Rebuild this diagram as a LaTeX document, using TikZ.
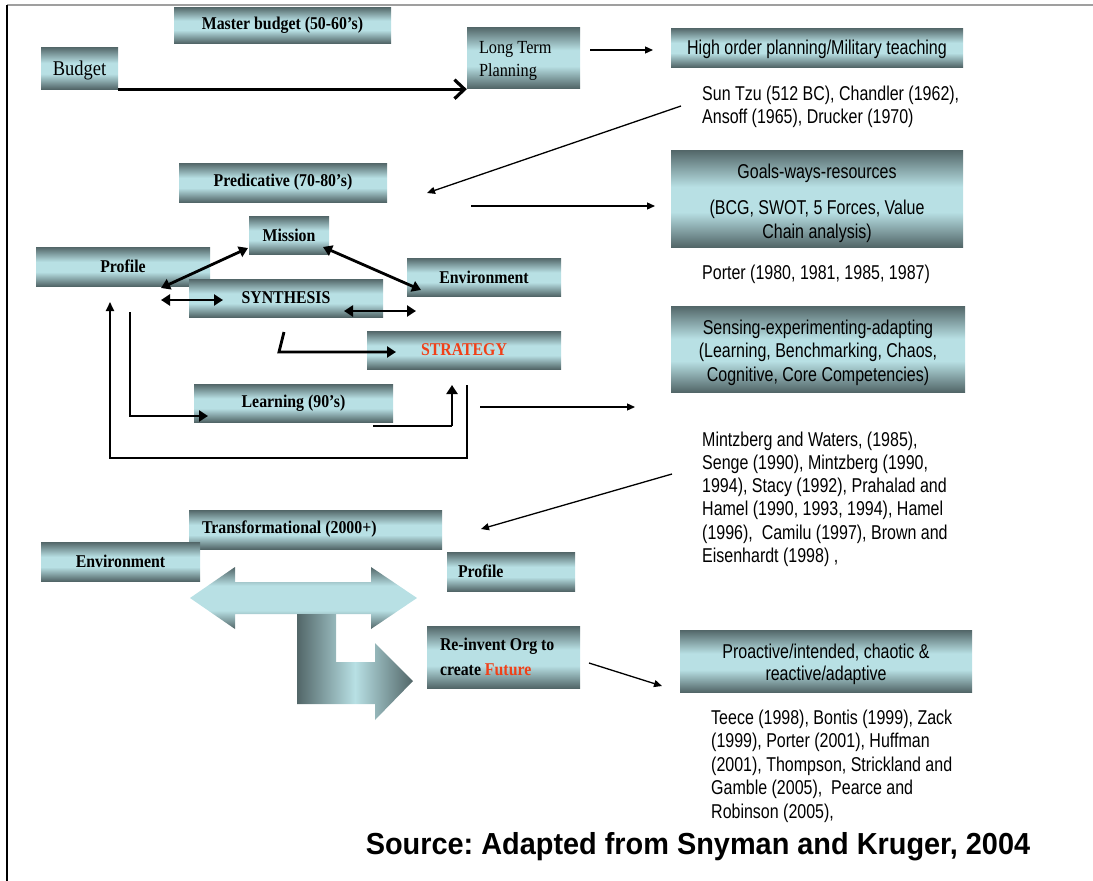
\documentclass[tikz,border=0pt]{standalone}
\usepackage{fontspec}
\setmainfont{Liberation Serif}
\newfontfamily\serifc[FakeStretch=0.88]{Liberation Serif}
\newfontfamily\arialn[FakeStretch=0.8]{Liberation Sans}
\newfontfamily\arialb[FakeStretch=0.95]{Liberation Sans}
\usetikzlibrary{arrows.meta}
\definecolor{boxdark}{RGB}{82,102,104}
\definecolor{boxlight}{RGB}{184,224,228}
\definecolor{stratred}{RGB}{240,64,24}
\pgfdeclareverticalshading{boxshade}{100bp}{color(0bp)=(boxdark); color(25bp)=(boxdark); color(43bp)=(boxlight); color(56bp)=(boxlight); color(75bp)=(boxdark); color(100bp)=(boxdark)}
\pgfdeclareverticalshading{dblshade}{100bp}{color(0bp)=(boxdark); color(25bp)=(boxdark); color(40bp)=(boxlight); color(60bp)=(boxlight); color(75bp)=(boxdark); color(100bp)=(boxdark)}
\newcommand\liftline[1]{\rule{0pt}{#1}}
\tikzset{
  gbox/.style={draw=none, shade, shading=boxshade, inner sep=0pt, align=center},
  lbl/.style={font=\serifc\bfseries\fontsize{18}{22}\selectfont},
  rtxt/.style={font=\arialn\fontsize{20}{23.3}\selectfont},
  cite/.style={rtxt, inner sep=0pt, align=left, anchor=base west},
  thk/.style={line width=2.8pt, -{Triangle[length=9pt,width=11pt]}},
  dthk/.style={line width=2.8pt, {Triangle[length=9pt,width=11pt]}-{Triangle[length=9pt,width=11pt]}},
  thn/.style={line width=1.3pt, -{Triangle[length=8pt,width=7pt]}},
  thnline/.style={line width=1.4pt},
  loopline/.style={line width=2pt, -{Triangle[length=9pt,width=8pt]}},
  budarrow/.style={line width=3.2pt, -{Straight Barb[length=10pt,width=19pt]}}
}
\begin{document}
\frenchspacing
\begin{tikzpicture}[x=1pt,y=-1pt]
\useasboundingbox (0,0) rectangle (1093,881);
% frame
\draw[gray!75, line width=1.6pt] (7,5) -- (1093,5);
\draw[line width=1.2pt] (7,5) -- (7,881);

% top row
\node[gbox, lbl, minimum width=217pt, minimum height=36pt] (mb) at (282.5,25) {Master budget (50-60’s)};
\node[gbox, font=\serifc\fontsize{21}{24}\selectfont, minimum width=77pt, minimum height=42pt] (bud) at (79.5,68) {\liftline{19pt}Budget};
\node[gbox, font=\serifc\fontsize{18.5}{23}\selectfont, minimum height=61pt, inner xsep=12pt, align=left] (ltp) at (523.5,57.5) {\liftline{18.3pt}\makebox[89pt][l]{Long Term}\\Planning};
\node[gbox, rtxt, minimum width=292pt, minimum height=39pt] (hop) at (817,47.5) {\liftline{19pt}High order planning/Military teaching};
\node[cite] (suntzu) at (702,123.3) {Sun Tzu (512 BC), Chandler (1962),\\Ansoff (1965), Drucker (1970)};

% predicative block
\node[gbox, lbl, minimum width=208pt, minimum height=39pt] (pred) at (283,182.5) {Predicative (70-80’s)};
\node[gbox, rtxt, minimum width=292pt, minimum height=97pt] (goals) at (817,198.5) {\liftline{23.6pt}Goals-ways-resources\\[13pt](BCG, SWOT, 5 Forces, Value\\Chain analysis)};
\node[cite] (porter) at (702,279) {Porter (1980, 1981, 1985, 1987)};
\node[gbox, lbl, minimum width=174pt, minimum height=39pt] (prof) at (123,266.5) {Profile};
\node[gbox, lbl, minimum width=80pt, minimum height=38pt] (mis) at (289,235) {Mission};
\node[gbox, lbl, minimum width=194pt, minimum height=38pt] (syn) at (286,298) {SYNTHESIS};
\node[gbox, lbl, minimum width=154pt, minimum height=38pt] (env) at (484,277) {Environment};
\node[gbox, lbl, minimum width=194pt, minimum height=38pt, text=stratred] (strat) at (464,350) {STRATEGY};
\node[gbox, lbl, minimum width=199pt, minimum height=38pt] (learn) at (293.5,403) {Learning (90’s)};
\node[gbox, rtxt, minimum width=294pt, minimum height=86pt] (sens) at (818,349) {\liftline{21.6pt}Sensing-experimenting-adapting\\(Learning, Benchmarking, Chaos,\\Cognitive, Core Competencies)};
\node[cite] (mintz) at (702,562.5) {Mintzberg and Waters, (1985),\\Senge (1990), Mintzberg (1990,\\1994), Stacy (1992), Prahalad and\\Hamel (1990, 1993, 1994), Hamel\\(1996),\ \ Camilu (1997), Brown and\\Eisenhardt (1998) ,};

% transformational block
\node[gbox, lbl, minimum height=39pt, inner xsep=13pt, align=left] (trans) at (315.5,529.5) {\makebox[227pt][l]{Transformational (2000+)}};
\node[gbox, lbl, minimum width=159pt, minimum height=39pt] (env2) at (120.5,561.5) {Environment};
\node[gbox, lbl, minimum height=39pt, inner xsep=11pt, align=left] (prof2) at (511,571.5) {\makebox[106pt][l]{Profile}};
\node[gbox, font=\serifc\bfseries\fontsize{18}{25}\selectfont, minimum height=62pt, inner xsep=13pt, align=left] (reinv) at (503.5,657) {\makebox[127pt][l]{Re-invent Org to}\\create \textcolor{stratred}{Future}};
\node[gbox, font=\arialn\fontsize{20}{22}\selectfont, minimum width=292pt, minimum height=62pt] (pro) at (826,661) {\liftline{20.6pt}Proactive/intended, chaotic \&\\reactive/adaptive};
\node[cite, font=\arialn\fontsize{20}{23.5}\selectfont] (teece) at (711,818) {Teece (1998), Bontis (1999), Zack\\(1999), Porter (2001), Huffman\\(2001), Thompson, Strickland and\\Gamble (2005),\ \ Pearce and\\Robinson (2005),};
\node[inner sep=0pt, font=\arialb\bfseries\fontsize{30.4}{34}\selectfont] (src) at (698,847) {Source: Adapted from Snyman and Kruger, 2004};

% block arrows
\shade[shading=dblshade] (190,598) -- (235,567) -- (235,582) -- (371,582) -- (371,567) -- (417,598) -- (371,629) -- (371,614) -- (235,614) -- (235,629) -- cycle;
\shade[left color=boxdark, right color=boxdark, middle color=boxlight] (297,614) -- (336,614) -- (336,662) -- (375,662) -- (375,643) -- (413,681) -- (375,720) -- (375,704) -- (297,704) -- cycle;

% connector end points
\coordinate (a1) at (590,50); \coordinate (a2) at (653,50);
\coordinate (st1) at (681,106); \coordinate (pr1) at (427,193);
\coordinate (g1) at (471,206); \coordinate (g2) at (655,206);
\coordinate (p1) at (161,288); \coordinate (m1) at (248,248);
\coordinate (m2) at (323,247); \coordinate (e1) at (421,290);
\coordinate (p2) at (161,300); \coordinate (s1) at (223,300);
\coordinate (s2) at (344,311); \coordinate (e2) at (416,311);
\coordinate (s3) at (284,332); \coordinate (s4) at (279,352); \coordinate (t1) at (396,352);
\coordinate (p3) at (130,312); \coordinate (l1) at (208,416);
\coordinate (l2) at (373,426); \coordinate (t2) at (452,385);
\coordinate (t3) at (467,385); \coordinate (lp) at (110,458); \coordinate (p4) at (110,302);
\coordinate (x1) at (480,407); \coordinate (x2) at (635,407);
\coordinate (mz1) at (672,474); \coordinate (tr1) at (481,529);
\coordinate (r1) at (589,663); \coordinate (pa1) at (662,686);

% connectors
\draw[budarrow] (bud.south east) -- (bud.south east -| ltp.west);
\draw[thn] (a1) -- (a2);
\draw[thn] (st1) -- (pr1);
\draw[thn] (g1) -- (g2);
\draw[dthk] (p1) -- (m1);
\draw[dthk] (m2) -- (e1);
\draw[dthk] (p2) -- (s1);
\draw[dthk] (s2) -- (e2);
\draw[thk] (s3) -- (s4) -- (t1);
\draw[thk, line width=2.5pt] (p3) |- (l1);
\draw[thnline] (l2) -- (l2 -| t2);
\draw[thk] (l2 -| t2) -- (t2);
\draw[loopline] (t3) |- (lp) -- (p4);
\draw[thn] (x1) -- (x2);
\draw[thn] (mz1) -- (tr1);
\draw[thn] (r1) -- (pa1);
\end{tikzpicture}
\end{document}
